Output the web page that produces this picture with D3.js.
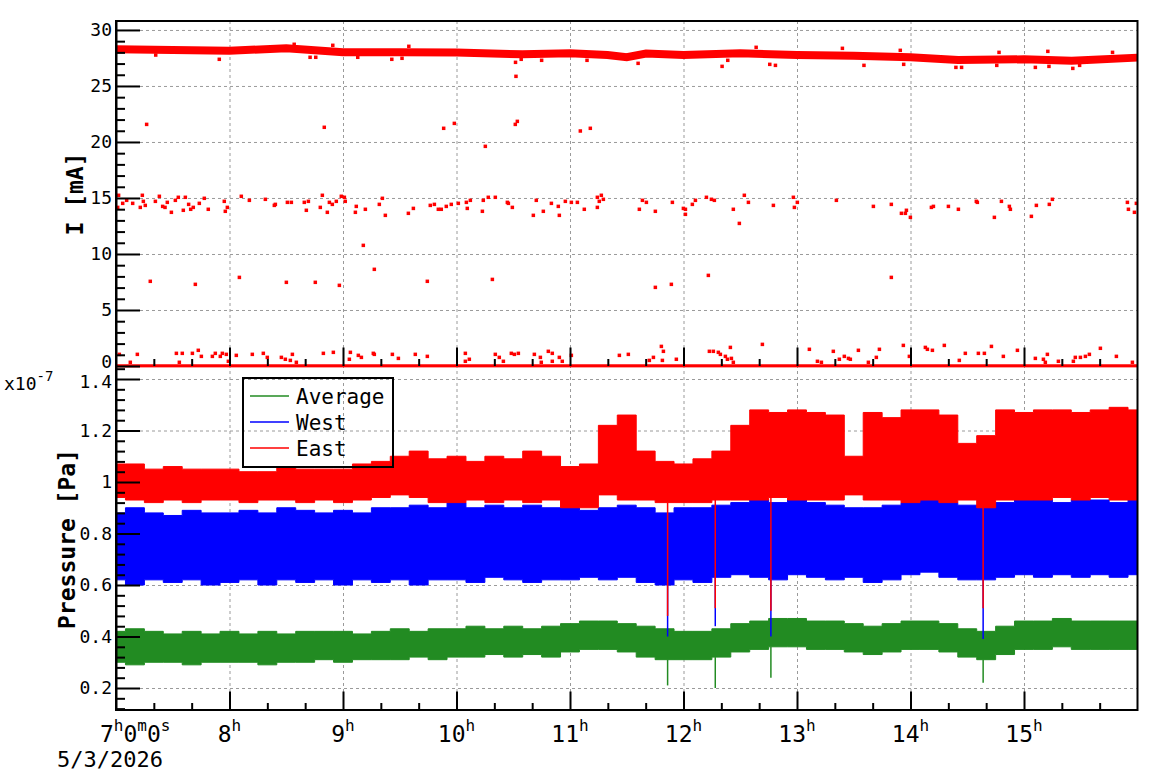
<!DOCTYPE html>
<html>
<head>
<meta charset="utf-8">
<script src="https://cdn.jsdelivr.net/npm/d3@7"></script>
<style>
body { margin: 0; background: #fff; }
svg { display: block; font-family: "DejaVu Sans Mono", monospace; }
.grid line { stroke: #9a9a9a; stroke-dasharray: 3,3; stroke-width: 1; }
.grid path { display: none; }
.ax path, .ax line { stroke: #000; stroke-width: 2; }
.ax text { font-size: 18px; fill: #000; font-family: "DejaVu Sans Mono", monospace; }
</style>
</head>
<body>
<div id="chart"></div>
<script>
// ---- data ----
// beam current, main band (hours, mA)
var bandTimes   = [7.0, 8.0, 8.5, 9.0, 9.5, 10.0, 10.58, 11.0, 11.33, 11.5, 11.67, 12.0, 12.5, 13.0, 13.5, 14.0, 14.42, 15.0, 15.42, 16.0];
var bandCurrent = [28.27, 28.15, 28.36, 28.0, 28.0, 27.98, 27.83, 27.92, 27.77, 27.56, 27.9, 27.77, 27.92, 27.77, 27.7, 27.56, 27.32, 27.38, 27.26, 27.53];

// single current readings away from the band [hour, mA]
var nearBandPoints = [[7.35,27.76],[7.91,27.38],[8.57,28.72],[8.71,27.56],[8.76,27.56],[8.91,28.63],[9.13,27.56],[9.43,27.38],[9.52,27.47],[9.58,28.54],[10.52,27.11],[10.57,27.38],[10.75,27.29],[11.15,27.29],[11.60,27.02],[12.34,26.75],[12.39,27.29],[12.64,28.45],[12.76,26.93],[12.81,26.84],[13.40,28.36],[13.59,26.84],[13.91,28.18],[13.94,26.93],[14.40,26.66],[14.45,26.66],[14.76,26.84],[14.78,28.0],[15.10,26.66],[15.21,28.09],[15.22,26.75],[15.43,26.57],[15.49,26.84],[15.78,28.0]];
var twentyPoints = [[7.27,21.57],[8.835,21.31],[9.887,21.22],[9.981,21.66],[10.254,19.61],[10.518,21.57],[10.536,21.84],[10.524,25.86],[11.091,20.98],[11.179,21.22]];
var fifteenPoints = [[7.023,15.24],[7.015,14.16],[7.059,14.52],[7.094,14.79],[7.147,14.52],[7.214,14.16],[7.232,15.24],[7.241,14.7],[7.258,14.34],[7.347,14.7],[7.382,15.15],[7.411,14.25],[7.432,14.16],[7.452,14.61],[7.488,13.72],[7.523,14.79],[7.549,15.06],[7.593,13.9],[7.611,15.06],[7.64,14.43],[7.658,13.99],[7.681,14.16],[7.734,14.52],[7.778,14.97],[7.813,13.99],[7.954,14.7],[7.963,13.81],[7.981,14.16],[8.104,15.15],[8.175,14.79],[8.316,14.88],[8.395,14.34],[8.404,14.43],[8.51,14.61],[8.545,14.61],[8.659,14.61],[8.677,13.9],[8.695,14.7],[8.8,14.16],[8.818,15.24],[8.862,13.72],[8.88,14.61],[8.906,14.43],[8.941,14.7],[8.985,15.15],[9.012,15.06],[9.02,14.7],[9.109,13.72],[9.117,14.25],[9.197,13.99],[9.32,14.43],[9.347,14.97],[9.373,13.45],[9.576,13.63],[9.62,14.07],[9.769,14.34],[9.805,14.43],[9.84,13.99],[9.866,13.99],[9.91,14.25],[9.954,14.43],[10.016,14.52],[10.087,14.61],[10.095,14.07],[10.122,14.79],[10.228,13.81],[10.236,14.79],[10.28,15.06],[10.342,15.06],[10.448,14.61],[10.457,14.52],[10.492,14.16],[10.677,13.45],[10.703,14.79],[10.765,13.81],[10.836,14.52],[10.897,14.25],[10.906,13.45],[10.959,14.7],[11.012,14.61],[11.065,14.61],[11.126,13.99],[11.241,14.16],[11.258,14.7],[11.241,15.06],[11.276,15.24],[11.294,14.88],[11.611,13.99],[11.638,14.79],[11.673,14.61],[11.752,13.81],[11.902,14.61],[11.999,14.07],[12.017,13.99],[12.017,13.54],[12.078,14.43],[12.105,14.79],[12.202,15.06],[12.246,14.88],[12.272,14.79],[12.439,13.99],[12.492,12.73],[12.536,15.24],[12.572,14.61],[12.792,14.34],[12.968,15.06],[12.977,14.16],[13.003,14.61],[13.347,14.79],[13.673,14.25],[13.831,14.43],[13.92,13.63],[13.955,13.63],[13.964,13.9],[13.999,13.27],[14.184,14.16],[14.202,14.25],[14.334,14.25],[14.422,13.99],[14.58,14.7],[14.589,14.61],[14.739,13.27],[14.801,14.7],[14.871,14.25],[14.88,13.99],[15.065,13.36],[15.109,14.34],[15.223,14.43],[15.25,14.88],[15.911,14.61],[15.92,13.99],[15.973,13.72],[15.99,14.52]];
var sevenPoints = [[7.302,7.56],[7.699,7.29],[8.087,7.91],[8.501,7.47],[8.756,7.47],[8.968,7.2],[9.179,10.77],[9.276,8.63],[9.743,7.56],[10.316,7.73],[11.752,7.02],[11.893,7.29],[12.219,8.09],[13.831,7.91]];
var lowPoints = [[7.029,1.04],[7.126,0.33],[7.188,1.04],[7.532,1.13],[7.558,0.33],[7.584,1.13],[7.673,1.13],[7.725,1.4],[7.752,0.86],[7.849,0.86],[7.875,1.13],[7.919,0.86],[7.937,1.13],[7.972,1.04],[7.99,0.42],[8.06,0.95],[8.201,1.04],[8.298,1.13],[8.333,0.77],[8.457,0.77],[8.492,0.6],[8.536,0.5],[8.554,1.04],[8.589,0.33],[8.827,1.13],[8.915,1.22],[9.056,0.6],[9.065,1.22],[9.135,0.95],[9.162,0.77],[9.267,1.13],[9.276,1.04],[9.435,1.04],[9.488,0.68],[9.637,1.04],[9.743,0.86],[10.078,1.13],[10.078,0.42],[10.113,0.6],[10.342,1.04],[10.377,0.77],[10.413,0.42],[10.483,1.13],[10.51,1.04],[10.545,1.13],[10.686,1.04],[10.739,0.77],[10.747,0.33],[10.809,1.31],[10.844,1.13],[10.844,0.42],[10.906,0.77],[10.932,0.42],[11.012,0.95],[11.435,0.95],[11.514,1.04],[11.805,1.75],[11.823,1.31],[11.735,0.77],[11.699,0.5],[11.814,0.5],[11.937,0.6],[12.228,1.31],[12.263,1.31],[12.307,1.22],[12.325,1.04],[12.369,0.86],[12.387,0.6],[12.413,1.66],[12.422,0.68],[12.439,0.33],[12.695,1.93],[13.109,1.49],[13.18,0.42],[13.215,0.33],[13.32,1.31],[13.373,0.6],[13.417,0.86],[13.453,0.68],[13.47,0.6],[13.541,1.4],[13.629,0.33],[13.699,0.77],[13.726,1.49],[13.937,1.84],[13.99,0.86],[14.131,1.66],[14.149,1.49],[14.193,1.4],[14.298,1.84],[14.43,0.5],[14.483,1.13],[14.598,1.13],[14.651,1.13],[14.713,1.75],[14.818,0.86],[14.942,1.4],[15.1,0.68],[15.171,0.6],[15.188,0.33],[15.206,1.04],[15.303,0.42],[15.435,0.42],[15.452,0.77],[15.497,0.77],[15.541,0.86],[15.576,1.04],[15.673,1.58],[15.814,0.86],[15.955,0.33]];
// readings at zero run along the whole day
var zeroRun = [7.0, 16.0];

// pressure, x10^-7 Pa, dense range every 10 minutes
var pressureTimes = ["7:00","7:10","7:20","7:30","7:40","7:50","8:00","8:10","8:20","8:30","8:40","8:50","9:00","9:10","9:20","9:30","9:40","9:50","10:00","10:10","10:20","10:30","10:40","10:50","11:00","11:10","11:20","11:30","11:40","11:50","12:00","12:10","12:20","12:30","12:40","12:50","13:00","13:10","13:20","13:30","13:40","13:50","14:00","14:10","14:20","14:30","14:40","14:50","15:00","15:10","15:20","15:30","15:40","15:50","16:00"];
var eastHigh = [1.07,1.07,1.05,1.06,1.05,1.05,1.05,1.04,1.04,1.06,1.05,1.05,1.05,1.07,1.08,1.10,1.12,1.09,1.10,1.08,1.10,1.09,1.12,1.10,1.06,1.07,1.22,1.26,1.12,1.08,1.07,1.09,1.12,1.22,1.28,1.27,1.28,1.27,1.26,1.10,1.27,1.25,1.28,1.28,1.26,1.15,1.18,1.28,1.27,1.28,1.28,1.27,1.28,1.29,1.28];
var eastLow  = [0.94,0.93,0.92,0.93,0.92,0.93,0.93,0.92,0.93,0.93,0.92,0.93,0.92,0.93,0.94,0.95,0.94,0.92,0.92,0.93,0.92,0.93,0.92,0.93,0.90,0.90,0.95,0.93,0.93,0.92,0.92,0.92,0.93,0.93,0.93,0.94,0.93,0.93,0.93,0.95,0.93,0.93,0.92,0.93,0.92,0.93,0.90,0.93,0.93,0.93,0.94,0.93,0.94,0.93,0.93];
var westHigh = [0.88,0.90,0.88,0.87,0.89,0.88,0.88,0.89,0.88,0.90,0.89,0.88,0.89,0.88,0.90,0.90,0.91,0.90,0.92,0.90,0.91,0.90,0.91,0.90,0.90,0.89,0.90,0.91,0.90,0.88,0.90,0.90,0.91,0.92,0.93,0.92,0.93,0.92,0.91,0.90,0.90,0.91,0.92,0.93,0.92,0.91,0.90,0.92,0.93,0.93,0.92,0.93,0.93,0.92,0.93];
var westLow  = [0.62,0.60,0.62,0.61,0.62,0.60,0.61,0.62,0.60,0.62,0.61,0.62,0.60,0.62,0.61,0.62,0.60,0.62,0.62,0.61,0.63,0.62,0.61,0.62,0.62,0.63,0.62,0.63,0.61,0.60,0.62,0.61,0.63,0.64,0.63,0.62,0.64,0.63,0.62,0.63,0.61,0.62,0.64,0.65,0.63,0.62,0.62,0.63,0.64,0.63,0.64,0.63,0.64,0.63,0.64];
var averageHigh = [0.42,0.43,0.42,0.41,0.42,0.41,0.42,0.41,0.42,0.41,0.42,0.42,0.42,0.41,0.42,0.43,0.42,0.43,0.43,0.44,0.43,0.44,0.43,0.44,0.45,0.46,0.46,0.45,0.44,0.43,0.42,0.42,0.43,0.45,0.46,0.47,0.47,0.46,0.46,0.45,0.44,0.45,0.46,0.46,0.45,0.43,0.42,0.44,0.46,0.46,0.47,0.46,0.46,0.46,0.46];
var averageLow  = [0.30,0.29,0.30,0.30,0.29,0.30,0.30,0.30,0.29,0.30,0.30,0.31,0.30,0.31,0.31,0.31,0.32,0.31,0.32,0.32,0.33,0.32,0.33,0.32,0.34,0.35,0.35,0.34,0.32,0.31,0.31,0.31,0.32,0.34,0.35,0.36,0.36,0.35,0.35,0.34,0.33,0.34,0.35,0.35,0.34,0.32,0.31,0.33,0.35,0.35,0.36,0.35,0.35,0.35,0.35];
// short drops seen in all three gauges
var dropTimes   = [11.86, 12.28, 12.77, 14.64];
var eastDrop    = [0.48, 0.51, 0.50, 0.51];
var westDrop    = [0.40, 0.44, 0.40, 0.39];
var averageDrop = [0.21, 0.20, 0.24, 0.22];

var hourTicks = [8, 9, 10, 11, 12, 13, 14, 15];
var currentTicks = [0, 5, 10, 15, 20, 25, 30];
var pressureTicks = [0.2, 0.4, 0.6, 0.8, 1.0, 1.2, 1.4];
var legendNames = ['Average', 'West', 'East'];
var colors = {Average: '#228b22', West: '#0000ff', East: '#ff0000'};

// ---- layout ----
var width = 1158, height = 782;
var frame = {left: 116, right: 1137.5, top: 21, mid: 366, bottom: 710};

var hrs = function hrs(s) {
    var p = s.split(':');
    return +p[0] + (+p[1]) / 60;
};

var svg = d3.select('#chart').append('svg')
            .attr('width', width)
            .attr('height', height);

var x = d3.scaleLinear().domain([7, 16]).range([frame.left, frame.right]);
var yI = d3.scaleLinear().domain([0, 30.8]).range([frame.mid, frame.top]);
var yP = d3.scaleLinear().domain([0.1146, 1.4505]).range([frame.bottom, frame.mid]);

var defs = svg.append('defs');
defs.append('clipPath').attr('id', 'clipTop').append('rect')
    .attr('x', frame.left).attr('y', frame.top)
    .attr('width', frame.right - frame.left).attr('height', frame.mid - frame.top + 1.5);
defs.append('clipPath').attr('id', 'clipBottom').append('rect')
    .attr('x', frame.left).attr('y', frame.mid)
    .attr('width', frame.right - frame.left).attr('height', frame.bottom - frame.mid);

var minorHours = [];
for (var h = 7; h < 16; h++) {
    minorHours.push(h + 1 / 3, h + 2 / 3);
}

var drawGrid = function drawGrid(yScale, yTicks, y0, y1) {
    svg.append('g').attr('class', 'grid')
       .attr('transform', 'translate(0,' + y1 + ')')
       .call(d3.axisTop(x).tickValues(hourTicks).tickSize(y1 - y0).tickFormat(''));
    svg.append('g').attr('class', 'grid')
       .attr('transform', 'translate(' + frame.left + ',0)')
       .call(d3.axisLeft(yScale).tickValues(yTicks).tickSize(-(frame.right - frame.left)).tickFormat(''));
};

drawGrid(yI, currentTicks.slice(1), frame.top, frame.mid);
drawGrid(yP, pressureTicks, frame.mid, frame.bottom);

// ---- top panel: current ----
var topPanel = svg.append('g').attr('clip-path', 'url(#clipTop)');

topPanel.append('path')
   .datum(d3.zip(bandTimes, bandCurrent))
   .attr('fill', 'none')
   .attr('stroke', colors.East)
   .attr('stroke-width', 8)
   .attr('d', d3.line().x(function(d) { return x(d[0]); }).y(function(d) { return yI(d[1]); }));

topPanel.append('line')
   .attr('x1', x(zeroRun[0])).attr('x2', x(zeroRun[1]))
   .attr('y1', yI(0)).attr('y2', yI(0))
   .attr('stroke', colors.East).attr('stroke-width', 3.5);

var allPoints = nearBandPoints.concat(twentyPoints, fifteenPoints, sevenPoints, lowPoints);
topPanel.selectAll('rect.pt')
   .data(allPoints)
   .enter().append('rect')
   .attr('class', 'pt')
   .attr('x', function(d) { return x(d[0]) - 1.75; })
   .attr('y', function(d) { return yI(d[1]) - 1.75; })
   .attr('width', 3.5).attr('height', 3.5)
   .attr('fill', colors.East);

// ---- bottom panel: pressure ----
var bottomPanel = svg.append('g').attr('clip-path', 'url(#clipBottom)');
var tHours = pressureTimes.map(hrs);

var series = [
    {name: 'Average', hi: averageHigh, lo: averageLow, drop: averageDrop},
    {name: 'West', hi: westHigh, lo: westLow, drop: westDrop},
    {name: 'East', hi: eastHigh, lo: eastLow, drop: eastDrop}
];

var area = d3.area()
             .curve(d3.curveStep)
             .x(function(d) { return x(d.t); })
             .y0(function(d) { return yP(d.lo); })
             .y1(function(d) { return yP(d.hi); });

series.forEach(function(s) {
    var rows = tHours.map(function(t, i) { return {t: t, lo: s.lo[i], hi: s.hi[i]}; });
    bottomPanel.append('path')
          .datum(rows)
          .attr('fill', colors[s.name])
          .attr('stroke', colors[s.name])
          .attr('stroke-width', 1)
          .attr('d', area);

    bottomPanel.selectAll(null)
          .data(dropTimes)
          .enter().append('line')
          .attr('x1', function(t) { return x(t); })
          .attr('x2', function(t) { return x(t); })
          .attr('y1', function(t) { return yP(s.lo[d3.bisectCenter(tHours, t)]); })
          .attr('y2', function(t, i) { return yP(s.drop[i]); })
          .attr('stroke', colors[s.name])
          .attr('stroke-width', 1.5);
});

// ---- axes ----
var yAxisTop = svg.append('g').attr('class', 'ax')
   .attr('transform', 'translate(' + frame.left + ',0)')
   .call(d3.axisLeft(yI).tickValues(currentTicks).tickSizeInner(-24).tickSizeOuter(0).tickPadding(4));
// the "0" of the current axis sits right above "1.4" of the pressure axis
yAxisTop.selectAll('.tick text').filter(function(d) { return d === 0; }).attr('y', -4);

svg.append('g').attr('class', 'ax')
   .attr('transform', 'translate(' + frame.left + ',0)')
   .call(d3.axisLeft(yI).tickValues(d3.range(0, 31).filter(function(v) { return v % 5; }))
           .tickSizeInner(-9).tickSizeOuter(0).tickFormat(''))
   .select('.domain').remove();

var yAxisBottom = svg.append('g').attr('class', 'ax')
   .attr('transform', 'translate(' + frame.left + ',0)')
   .call(d3.axisLeft(yP).tickValues(pressureTicks).tickSizeInner(-24).tickSizeOuter(0).tickPadding(4)
           .tickFormat(function(d) { return String(+d.toFixed(1)); }));
yAxisBottom.selectAll('.tick text').filter(function(d) { return d === 1.4; }).attr('y', 3);

svg.append('g').attr('class', 'ax')
   .attr('transform', 'translate(' + frame.left + ',0)')
   .call(d3.axisLeft(yP).tickValues(d3.range(3, 37).map(function(k) { return k * 0.04; })
                                      .filter(function(v) { return Math.abs(v * 5 - Math.round(v * 5)) > 1e-6; }))
           .tickSizeInner(-9).tickSizeOuter(0).tickFormat(''))
   .select('.domain').remove();

[frame.mid, frame.bottom].forEach(function(yy) {
    svg.append('g').attr('class', 'ax')
       .attr('transform', 'translate(0,' + yy + ')')
       .call(d3.axisTop(x).tickValues(hourTicks).tickSize(18.5).tickFormat(''))
       .select('.domain').remove();
    svg.append('g').attr('class', 'ax')
       .attr('transform', 'translate(0,' + yy + ')')
       .call(d3.axisTop(x).tickValues(minorHours).tickSize(7).tickFormat(''))
       .select('.domain').remove();
});

svg.append('path')
   .attr('d', 'M' + frame.left + ',' + frame.top + 'H' + frame.right + 'V' + frame.bottom + 'H' + frame.left + 'Z')
   .attr('fill', 'none').attr('stroke', '#000').attr('stroke-width', 2);

// ---- text ----
var labels = svg.append('g').attr('font-family', '"DejaVu Sans Mono", monospace').attr('fill', '#000');

hourTicks.forEach(function(h) {
    var t = labels.append('text').attr('x', x(h)).attr('y', 742).attr('text-anchor', 'middle');
    t.append('tspan').attr('font-size', 23).text(h);
    t.append('tspan').attr('font-size', 16).attr('dy', -11).text('h');
});

var first = labels.append('text').attr('x', 100).attr('y', 742);
[['7', 'h'], ['0', 'm'], ['0', 's']].forEach(function(p, i) {
    first.append('tspan').attr('font-size', 23).attr('dy', i ? 11 : 0).text(p[0]);
    first.append('tspan').attr('font-size', 16).attr('dy', -11).text(p[1]);
});

labels.append('text').attr('x', 57).attr('y', 767).attr('font-size', 22).text('5/3/2026');

var mult = labels.append('text').attr('x', 4).attr('y', 390);
mult.append('tspan').attr('font-size', 18).text('x10');
mult.append('tspan').attr('font-size', 14).attr('dy', -9).text('-7');

labels.append('text')
      .attr('transform', 'translate(83,194) rotate(-90)')
      .attr('text-anchor', 'middle').attr('font-size', 23).attr('font-weight', 'bold')
      .text('I [mA]');
labels.append('text')
      .attr('transform', 'translate(75,539) rotate(-90)')
      .attr('text-anchor', 'middle').attr('font-size', 23).attr('font-weight', 'bold')
      .text('Pressure [Pa]');

// ---- legend ----
var legend = svg.append('g');
legend.append('rect')
      .attr('x', 243).attr('y', 378).attr('width', 150).attr('height', 89)
      .attr('fill', 'none').attr('stroke', '#000').attr('stroke-width', 2);
legendNames.forEach(function(name, i) {
    var ly = 396 + i * 26;
    legend.append('line')
          .attr('x1', 250).attr('x2', 289).attr('y1', ly).attr('y2', ly)
          .attr('stroke', colors[name]).attr('stroke-width', 1.5);
    legend.append('text')
          .attr('x', 296).attr('y', ly + 7.5)
          .attr('font-size', 21)
          .attr('font-family', '"DejaVu Sans Mono", monospace')
          .text(name);
});
</script>
</body>
</html>
